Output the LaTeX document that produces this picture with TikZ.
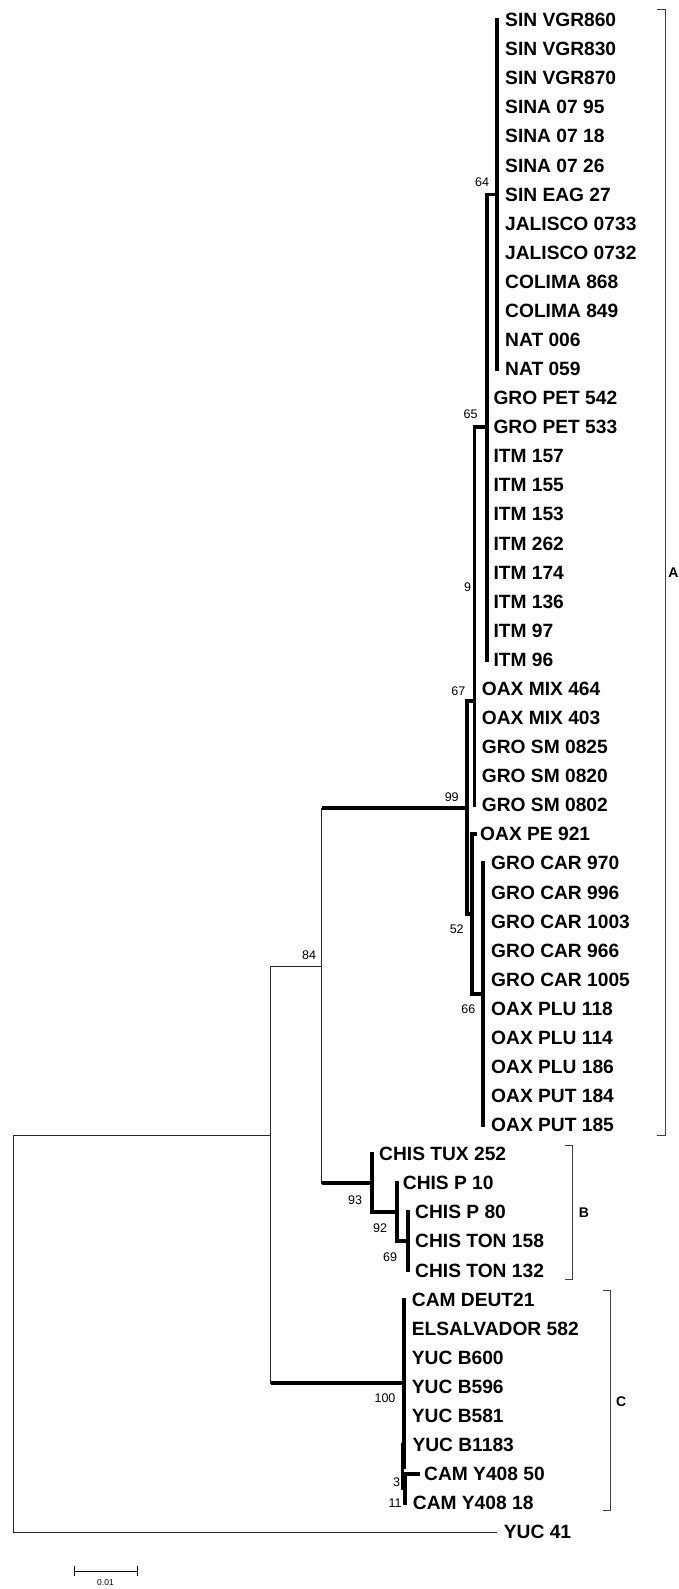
\documentclass[tikz,border=0pt]{standalone}
\usepackage{fontspec}
\setmainfont{Liberation Sans}
\newcommand\leaffont{\fontsize{19.2}{19.2}\selectfont\bfseries}
\newcommand\suppfont{\fontsize{12.5}{12.5}\selectfont}
\newcommand\cladefont{\fontsize{14}{14}\selectfont\bfseries}
\newcommand\sbarfont{\fontsize{8.5}{8.5}\selectfont}
\begin{document}
\begin{tikzpicture}[x=1pt,y=-1pt,
  thickbr/.style={line width=3.8pt, line cap=rect},
  thickh/.style={line width=3.8pt},
  thinbr/.style={line width=0.9pt, black!85},
  leaf/.style={anchor=west, inner sep=0pt, font=\leaffont},
  supp/.style={inner sep=0pt, font=\suppfont},
  clade/.style={inner sep=0pt, font=\cladefont},
  bracket/.style={line width=1pt, black!75}]
\useasboundingbox (0,0) rectangle (678,1589);

% internal nodes
\coordinate (root) at (13,1135);
\coordinate (nin) at (270.7,1135);
\coordinate (n84) at (321.7,966);
\coordinate (n99) at (467,808);
\coordinate (n67) at (474.5,700.7);
\coordinate (n65) at (486.7,427.12);
\coordinate (n64) at (497.3,194.48);
\coordinate (n52) at (472,914.2);
\coordinate (n66) at (483.3,994.18);
\coordinate (n93) at (371.7,1183.2);
\coordinate (n92) at (396.7,1212.28);
\coordinate (n69) at (408.3,1241.36);
\coordinate (nC) at (404,1383.1);
\coordinate (n11) at (402.5,1466.73);
\coordinate (n3) at (405,1488.54);

% thin backbone
\draw[thinbr] (root) |- (nin);
\draw[thinbr] (nin) |- (n84);
\draw[thinbr] (nin) |- (nC);
\draw[thinbr] (n84) |- (n99);
\draw[thinbr] (n84) |- (n93);
\draw[thickh] (nin |- nC) -- (nC);
\draw[thickh] (n84 |- n99) -- (n99);
\draw[thickh] (n84 |- n93) -- (n93);

% thick internal edges
\foreach \p/\c in {n65/n64, n67/n65, n99/n67, n99/n52, n52/n66, n93/n92, n92/n69, nC/n11, n11/n3}
  \draw[thickbr] (\p) |- (\c);

% leaves
\foreach \i/\xx/\p/\dx/\t in {
  0/497.3/n64/7.7/SIN VGR860, 1/497.3/n64/7.7/SIN VGR830, 2/497.3/n64/7.7/SIN VGR870,
  3/497.3/n64/7.7/SINA 07 95, 4/497.3/n64/7.7/SINA 07 18, 5/497.3/n64/7.7/SINA 07 26,
  6/497.3/n64/7.7/SIN EAG 27, 7/497.3/n64/7.7/JALISCO 0733, 8/497.3/n64/7.7/JALISCO 0732,
  9/497.3/n64/7.7/COLIMA 868, 10/497.3/n64/7.7/COLIMA 849, 11/497.3/n64/7.7/NAT 006,
  12/497.3/n64/7.7/NAT 059,
  13/486.7/n65/6.6/GRO PET 542, 14/486.7/n65/6.6/GRO PET 533,
  15/486.7/n65/6.6/ITM 157, 16/486.7/n65/6.6/ITM 155, 17/486.7/n65/6.6/ITM 153,
  18/486.7/n65/6.6/ITM 262, 19/486.7/n65/6.6/ITM 174, 20/486.7/n65/6.6/ITM 136,
  21/486.7/n65/6.6/ITM 97, 22/486.7/n65/6.6/ITM 96,
  23/474.5/n67/7.2/OAX MIX 464, 24/474.5/n67/7.2/OAX MIX 403, 25/474.5/n67/7.2/GRO SM 0825,
  26/474.5/n67/7.2/GRO SM 0820, 27/474.5/n67/7.2/GRO SM 0802,
  28/475/n52/5/OAX PE 921,
  29/483.3/n66/7.7/GRO CAR 970, 30/483.3/n66/7.7/GRO CAR 996, 31/483.3/n66/7.7/GRO CAR 1003,
  32/483.3/n66/7.7/GRO CAR 966, 33/483.3/n66/7.7/GRO CAR 1005, 34/483.3/n66/7.7/OAX PLU 118,
  35/483.3/n66/7.7/OAX PLU 114, 36/483.3/n66/7.7/OAX PLU 186, 37/483.3/n66/7.7/OAX PUT 184,
  38/483.3/n66/7.7/OAX PUT 185,
  39/371.7/n93/7.3/CHIS TUX 252,
  40/396.7/n92/6/CHIS P 10,
  41/408.3/n69/6.7/CHIS P 80, 42/408.3/n69/6.7/CHIS TON 158, 43/408.3/n69/6.7/CHIS TON 132,
  44/404/nC/7.7/CAM DEUT21, 45/404/nC/7.7/ELSALVADOR 582, 46/404/nC/7.7/YUC B600,
  47/404/nC/7.7/YUC B596, 48/404/nC/7.7/YUC B581,
  49/404/n11/8.3/YUC B1183,
  50/418.3/n3/5.7/CAM Y408 50, 51/405/n3/7.7/CAM Y408 18}{
  \coordinate (c\i) at (\xx,{20+29.08*\i});
  \draw[thickbr] (\p) |- (c\i);
  \node[leaf] (l\i) at ([xshift=\dx pt]c\i) {\t};
}
\coordinate (c52) at (497,{20+29.08*52});
\draw[thinbr] (root) |- (c52);
\node[leaf] (l52) at ([xshift=6.7pt]c52) {YUC 41};

% support values
\node[supp] (s64) at (482,181.7) {64};
\node[supp] (s65) at (470.5,414.3) {65};
\node[supp] (s9) at (467.7,586.7) {9};
\node[supp] (s67) at (458.3,690.7) {67};
\node[supp] (s99) at (451.7,796.7) {99};
\node[supp] (s52) at (456.7,929.3) {52};
\node[supp] (s66) at (468.3,1009.3) {66};
\node[supp] (s84) at (309,955) {84};
\node[supp] (s93) at (355,1200) {93};
\node[supp] (s92) at (380,1228) {92};
\node[supp] (s69) at (390,1256.7) {69};
\node[supp] (s100) at (385,1398.3) {100};
\node[supp] (s3) at (396.7,1481.7) {3};
\node[supp] (s11) at (395,1503.3) {11};

% clade brackets
\draw[bracket] (657,10) -- (665,10) -- (665,1135) -- (657,1135);
\node[clade] (cA) at (673.5,572.3) {A};
\draw[bracket] (564.7,1145) -- (572.7,1145) -- (572.7,1279) -- (564.7,1279);
\node[clade] (cB) at (584,1212.7) {B};
\draw[bracket] (602.7,1290) -- (610.7,1290) -- (610.7,1510.7) -- (602.7,1510.7);
\node[clade] (cC) at (621.2,1401.7) {C};

% scale bar
\coordinate (sb1) at (74,1571);
\coordinate (sb2) at (137,1571);
\draw[line width=0.9pt] (sb1) -- (sb2);
\draw[line width=0.9pt] ([yshift=5pt]sb1) -- ([yshift=-5pt]sb1);
\draw[line width=0.9pt] ([yshift=5pt]sb2) -- ([yshift=-5pt]sb2);
\node[inner sep=0pt, font=\sbarfont] (sbl) at (105.5,1583) {0.01};
\end{tikzpicture}
\end{document}
